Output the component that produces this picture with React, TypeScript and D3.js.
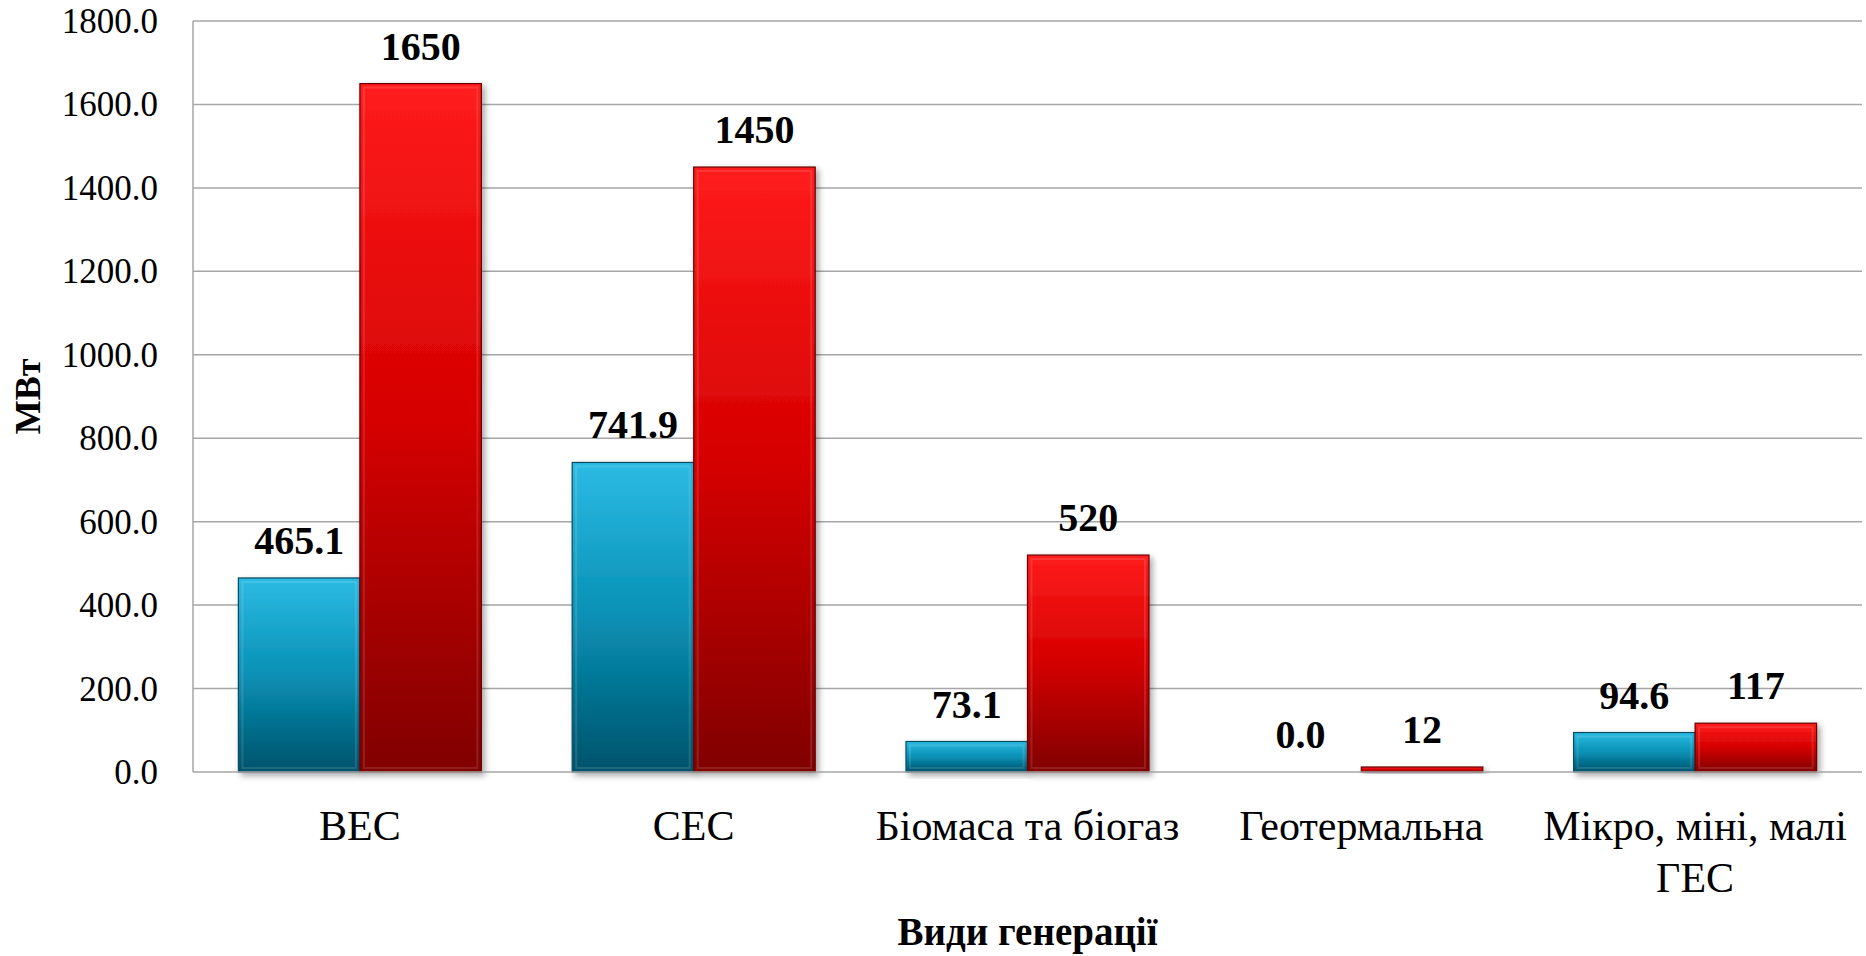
import React, { useRef, useEffect } from 'react';
import * as d3 from 'd3';

const categories = ['ВЕС', 'СЕС', 'Біомаса та біогаз', 'Геотермальна', 'Мікро, міні, малі ГЕС'];
const categoryLines = [['ВЕС'], ['СЕС'], ['Біомаса та біогаз'], ['Геотермальна'], ['Мікро, міні, малі', 'ГЕС']];
const series = ['current', 'target'];
const currentValues = [465.1, 741.9, 73.1, 0.0, 94.6];
const targetValues = [1650, 1450, 520, 12, 117];
const currentLabels = ['465.1', '741.9', '73.1', '0.0', '94.6'];
const targetLabels = ['1650', '1450', '520', '12', '117'];
const yTicks = [0, 200, 400, 600, 800, 1000, 1200, 1400, 1600, 1800];

const W = 1866;
const H = 956;
const FONT = '"Liberation Serif", "Times New Roman", serif';

const App = () => {
  const svgRef = useRef<SVGSVGElement>(null);

  useEffect(() => {
    const svg = d3.select(svgRef.current);
    svg.selectAll('*').remove();

    const left = 193, right = 1862, top = 21, bottom = 772;

    const defs = svg.append('defs');
    const grads = [
      { id: 'gBlue', stops: ['#2cbbe3', '#0890b5', '#02526a'] },
      { id: 'gRed', stops: ['#ff1c1c', '#d40000', '#800000'] },
    ];
    grads.forEach(g => {
      const lg = defs.append('linearGradient').attr('id', g.id)
        .attr('x1', 0).attr('y1', 0).attr('x2', 0).attr('y2', 1);
      g.stops.forEach((c, i) => lg.append('stop')
        .attr('offset', i / (g.stops.length - 1)).attr('stop-color', c));
    });
    const f = defs.append('filter').attr('id', 'shadow')
      .attr('x', '-10%').attr('y', '-10%').attr('width', '130%').attr('height', '130%');
    f.append('feDropShadow').attr('dx', 3).attr('dy', 3).attr('stdDeviation', 3)
      .attr('flood-color', '#000').attr('flood-opacity', 0.35);

    const x0 = d3.scaleBand<string>().domain(categories).range([left, right])
      .paddingInner(0.272).paddingOuter(0.136);
    const x1 = d3.scaleBand<string>().domain(series).range([0, x0.bandwidth()]);
    const y = d3.scaleLinear().domain([0, 1800]).range([bottom, top]);

    // gridlines
    svg.append('g').selectAll('line').data(yTicks.filter(t => t > 0)).enter().append('line')
      .attr('x1', left).attr('x2', right)
      .attr('y1', d => y(d)).attr('y2', d => y(d))
      .attr('stroke', '#a6a6a6').attr('stroke-width', 1.5);

    // y tick labels
    svg.append('g').selectAll('text').data(yTicks).enter().append('text')
      .attr('x', 158).attr('y', d => y(d) + 12)
      .attr('text-anchor', 'end')
      .style('font-family', FONT).style('font-size', '35px').attr('fill', '#000')
      .text(d => d3.format('.1f')(d));

    const bars = svg.append('g');
    const drawSeries = (vals: number[], key: string, grad: string, stroke: string) => {
      const g = bars.selectAll(`g.${key}`).data(vals).enter().append('g').attr('class', key);
      g.append('rect')
        .attr('x', (_, i) => (x0(categories[i]) as number) + (x1(key) as number))
        .attr('y', d => y(d))
        .attr('width', x1.bandwidth())
        .attr('height', d => bottom - y(d))
        .attr('fill', `url(#${grad})`)
        .attr('stroke', stroke).attr('stroke-width', 1.2)
        .attr('filter', 'url(#shadow)')
        .style('display', d => (d > 0 ? null : 'none'));
      g.append('rect')
        .attr('x', (_, i) => (x0(categories[i]) as number) + (x1(key) as number) + 4)
        .attr('y', d => y(d) + 4)
        .attr('width', x1.bandwidth() - 8)
        .attr('height', d => Math.max(0, bottom - y(d) - 8))
        .attr('fill', 'none')
        .attr('stroke', 'rgba(255,255,255,0.12)').attr('stroke-width', 2)
        .style('display', d => (bottom - y(d) > 10 ? null : 'none'));
    };
    drawSeries(currentValues, 'current', 'gBlue', '#0b4a5e');
    drawSeries(targetValues, 'target', 'gRed', '#6a0000');

    // axes lines
    svg.append('line').attr('x1', left).attr('x2', left).attr('y1', top).attr('y2', bottom)
      .attr('stroke', '#a6a6a6').attr('stroke-width', 1.5);
    svg.append('line').attr('x1', left).attr('x2', right).attr('y1', bottom).attr('y2', bottom)
      .attr('stroke', '#a6a6a6').attr('stroke-width', 1.5);

    // value labels
    const labelSeries = [
      { key: 'current', vals: currentValues, labels: currentLabels },
      { key: 'target', vals: targetValues, labels: targetLabels },
    ];
    labelSeries.forEach(s => {
      svg.append('g').selectAll('text').data(s.vals).enter().append('text')
        .attr('x', (_, i) => (x0(categories[i]) as number) + (x1(s.key) as number) + x1.bandwidth() / 2)
        .attr('y', d => y(d) - 24)
        .attr('text-anchor', 'middle')
        .style('font-family', FONT).style('font-size', '40px').style('font-weight', 'bold')
        .attr('fill', '#000')
        .text((_, i) => s.labels[i]);
    });

    // category labels
    const cl = svg.append('g').selectAll('text').data(categoryLines).enter().append('text')
      .attr('x', (_, i) => (x0(categories[i]) as number) + x0.bandwidth() / 2)
      .attr('y', 840)
      .attr('text-anchor', 'middle')
      .style('font-family', FONT).style('font-size', '42px').attr('fill', '#000');
    cl.selectAll('tspan').data(d => d).enter().append('tspan')
      .attr('x', function () { return (this.parentNode as SVGTextElement).getAttribute('x'); })
      .attr('dy', (_, j) => (j === 0 ? 0 : 52))
      .text(d => d);

    // axis titles
    svg.append('text')
      .attr('x', (left + right) / 2).attr('y', 945)
      .attr('text-anchor', 'middle')
      .style('font-family', FONT).style('font-size', '39px').style('font-weight', 'bold')
      .text('Види генерації');
    svg.append('text')
      .attr('transform', `translate(40,${(top + bottom) / 2}) rotate(-90)`)
      .attr('text-anchor', 'middle')
      .style('font-family', FONT).style('font-size', '36px').style('font-weight', 'bold')
      .text('МВт');
  }, []);

  return (
    <svg ref={svgRef} width={W} height={H}
      style={{ position: 'absolute', left: 0, top: 0, background: '#fff' }} />
  );
};

export default App;
